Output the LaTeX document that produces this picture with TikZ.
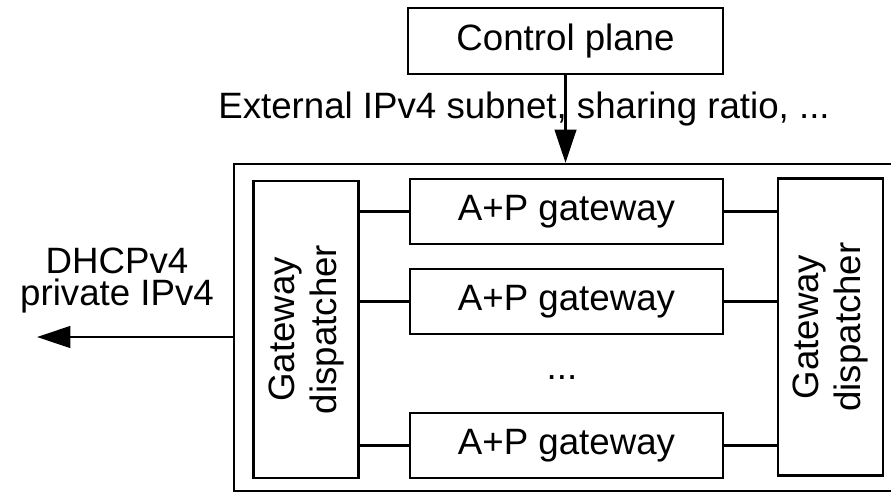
\documentclass[tikz,border=0pt]{standalone}
\usepackage{fontspec}
\setmainfont{Liberation Sans}
\usepackage{tikz}
\usetikzlibrary{arrows.meta,positioning}

\begin{document}
\begin{tikzpicture}[x=0.3pt, y=-0.3pt, line width=0.7pt,
    every node/.style={font=\fontsize{11}{12.6}\selectfont},
    gwbox/.style={draw, inner sep=0pt, minimum width=93.9pt, minimum height=19.5pt},
    dispbox/.style={draw, rotate=90, align=center, inner sep=0pt, minimum width=89.1pt, minimum height=31.5pt},
    tip/.style={-{Triangle[length=10pt, width=6.5pt]}}]
    \useasboundingbox (0, 0) rectangle (891, 493);

    \coordinate (CP) at (565.5, 41);
    \coordinate (OUT) at (563, 327.5);
    \coordinate (DL) at (306, 329.5);
    \coordinate (DR) at (830.5, 327);
    \coordinate (GW1) at (566.5, 211.5);
    \coordinate (GW2) at (566.5, 301.5);
    \coordinate (GW3) at (566.5, 445.5);
    \coordinate (dhcpEnd) at (37, 337);

    \node [draw, inner sep=0pt, minimum width=94.5pt, minimum height=19.8pt] (ctrl) at (CP) {Control plane};
    \node [draw, inner sep=0pt, minimum width=197.4pt, minimum height=98.1pt] (outer) at (OUT) {};

    \node [dispbox] (dispL) at (DL) {Gateway\\dispatcher};
    \node [dispbox] (dispR) at (DR) {Gateway\\dispatcher};

    \node [gwbox] (gw1) at (GW1) {A+P gateway};
    \node [gwbox] (gw2) at (GW2) {A+P gateway};
    \node [gwbox] (gw3) at (GW3) {A+P gateway};
    \node (dots) at (562, 378) {...};

    \draw (dispL.south |- gw1.west) -- (gw1.west);
    \draw (dispL.south |- gw2.west) -- (gw2.west);
    \draw (dispL.south |- gw3.west) -- (gw3.west);
    \draw (gw1.east) -- (dispR.north |- gw1.east);
    \draw (gw2.east) -- (dispR.north |- gw2.east);
    \draw (gw3.east) -- (dispR.north |- gw3.east);

    \draw [tip] (ctrl.south) -- (ctrl.south |- outer.north);
    \node [anchor=base] (ext) at (524, 118) {External IPv4 subnet, sharing ratio, ...};

    \draw [tip] (outer.west |- dhcpEnd) -- (dhcpEnd);
    \node [align=center, font=\fontsize{11}{9.6}\selectfont] (dhcp) at (117, 280) {DHCPv4\\private IPv4};

  \end{tikzpicture}
\end{document}
